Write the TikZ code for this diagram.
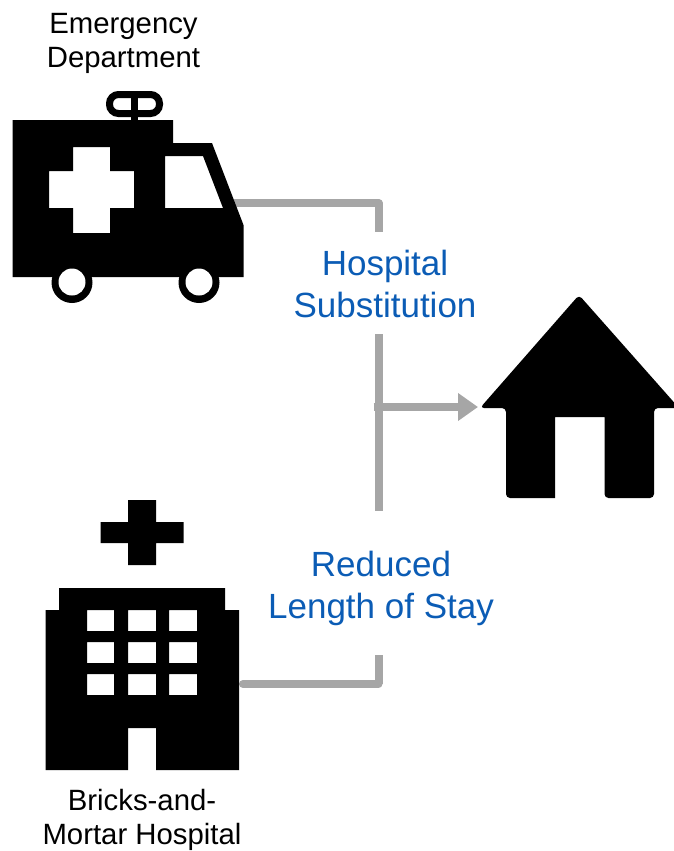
\documentclass[tikz,border=0pt]{standalone}
\usepackage{fontspec}
\setmainfont{Liberation Sans}
\usetikzlibrary{arrows.meta}
\definecolor{conn}{HTML}{A6A6A6}
\definecolor{lbl}{HTML}{0B5CB5}
\tikzset{
  every node/.style={inner sep=0pt,outer sep=0pt,align=center},
  caption/.style={font=\fontsize{22}{25.5}\selectfont,text=black},
  effect/.style={font=\fontsize{26.25}{31.5}\selectfont,text=lbl},
  link/.style={draw=conn,line width=6pt,line join=miter},
  icon/.style={fill=black,even odd rule},
}
\begin{document}
\begin{tikzpicture}[x=0.75pt,y=-0.75pt]
\useasboundingbox (0,0) rectangle (674,851);
\clip (0,0) rectangle (674,851);
% connector ends
\coordinate (ambOut) at (234,203);
\coordinate (topElbow) at (378.5,203);
\coordinate (topEnd) at (378.5,232);
\coordinate (trunkTop) at (378.5,334);
\coordinate (trunkBot) at (378.5,511);
\coordinate (trunkMid) at (373.5,407);
\coordinate (arrowEnd) at (478,407);
\coordinate (hospOut) at (243,684);
\coordinate (botElbow) at (378.5,684);
\coordinate (botEnd) at (378.5,655);
% connectors
\draw[link,line join=round] (ambOut) -- (topElbow) -- (topEnd);
\draw[link] (trunkTop) -- (trunkBot);
\draw[link,-{Triangle[length=15pt,width=20pt,sep=0pt]}] (trunkMid) -- (arrowEnd);
\draw[link,line cap=round] (hospOut) -- (botElbow);
\draw[link] (botEnd) -- (botElbow);
% ambulance
\fill[icon] (12.5,120) -- (173,120) -- (173,143) -- (212,143) -- (243.5,225) -- (243.5,277) -- (12.5,277) -- cycle
  (73,147) -- (110,147) -- (110,171) -- (134,171) -- (134,208) -- (110,208) -- (110,233) -- (73,233) -- (73,208) -- (49,208) -- (49,171) -- (73,171) -- cycle
  (165,156) -- (203,156) -- (223,208) -- (165,208) -- cycle;
\fill[black] (72,282.5) circle[radius=20.5] (199,282.5) circle[radius=20.5];
\fill[white] (72,282) circle[radius=13.5] (199,282) circle[radius=13.5];
\draw[black,line width=5.25pt,rounded corners=6.75pt] (109.5,94.5) rectangle (159.5,113.5);
\fill[black] (131,91) rectangle (138,121);
% hospital
\fill[icon] (128,500) -- (156,500) -- (156,522) -- (183.5,522) -- (183.5,543) -- (156,543) -- (156,565) -- (128,565) -- (128,543) -- (100.5,543) -- (100.5,522) -- (128,522) -- cycle;
\fill[icon] (59,588) -- (225,588) -- (225,610) -- (239,610) -- (239,770) -- (156,770) -- (156,728) -- (128,728) -- (128,770) -- (45.5,770) -- (45.5,610) -- (59,610) -- cycle
  (87,610) rectangle (114,631) (128,610) rectangle (156,631) (169,610) rectangle (197,631)
  (87,642) rectangle (114,663) (128,642) rectangle (156,663) (169,642) rectangle (197,663)
  (87,674) rectangle (114,695) (128,674) rectangle (156,695) (169,674) rectangle (197,695);
% house
\fill[black,rounded corners=3pt] (579,295) -- (679,408) -- (654,408) -- (654,498) -- (604.5,498) [sharp corners] -- (604.5,417) -- (555,417) -- (555,498) [rounded corners=3pt] -- (506,498) -- (506,408) -- (480,408) -- cycle;
% labels
\node[caption] (ed) at (123.5,43.5) {Emergency\\Department};
\node[caption] (bm) at (142,820) {Bricks-and-\\Mortar Hospital};
\node[effect] (hs) at (385,284) {Hospital\\Substitution};
\node[effect] (rl) at (381,588) {Reduced\\Length of Stay};
\end{tikzpicture}
\end{document}
